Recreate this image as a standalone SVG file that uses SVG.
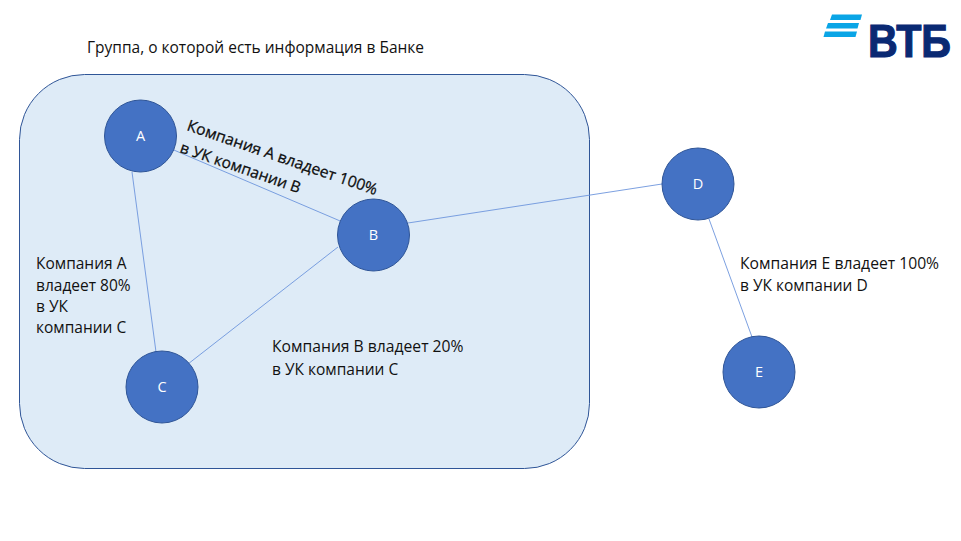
<svg xmlns="http://www.w3.org/2000/svg" width="961" height="541" viewBox="0 0 961 541">
<style>
text{font-family:"Open Sans","Noto Sans","Liberation Sans",sans-serif;font-size:15.700px;fill:#111}
.t{font-size:15.500px}
.r{stroke:#000;stroke-width:.25}
.n circle{fill:#4472c4;stroke:#2f5597;stroke-width:1}
.n text{fill:#fff;text-anchor:middle;font-size:14.500px}
#connectors line{stroke:#6d95dc;stroke-width:.9}
.logo{fill:#0a2973;stroke:#0a2973;stroke-width:1.200;font-family:"Liberation Sans",sans-serif;font-weight:700;font-size:46px}
</style>
<rect width="961" height="541" fill="#fff"/>
<g id="group"><rect x="19.500" y="74.500" width="570" height="394" rx="65" fill="#deebf7" stroke="#2f5597"/></g>
<g id="connectors">
<line x1="141" y1="136" x2="373" y2="235"/>
<line x1="132" y1="172" x2="156" y2="352"/>
<line x1="338" y1="247" x2="188" y2="364"/>
<line x1="408" y1="223" x2="662" y2="184"/>
<line x1="709" y1="219" x2="752" y2="337"/>
</g>
<g id="A" class="n"><circle cx="140.500" cy="136" r="36"/><text x="140.500" y="141">A</text></g>
<g id="B" class="n"><circle cx="373.500" cy="235" r="36"/><text x="373.500" y="240">B</text></g>
<g id="C" class="n"><circle cx="162" cy="387" r="36"/><text x="162" y="392">C</text></g>
<g id="D" class="n"><circle cx="698" cy="184" r="36"/><text x="698" y="189">D</text></g>
<g id="E" class="n"><circle cx="759" cy="372" r="36"/><text x="759" y="377">E</text></g>
<text class="t" x="87" y="53">Группа, о которой есть информация в Банке</text>
<text class="r" transform="translate(186 130) rotate(19)">Компания А владеет 100%</text>
<text class="r t" transform="translate(179 152) rotate(19)">в УК компании В</text>
<text class="t" x="36" y="269">Компания А</text>
<text class="t" x="36" y="291">владеет 80%</text>
<text class="t" x="36" y="312">в УК</text>
<text class="t" x="36" y="333">компании С</text>
<text x="272" y="352">Компания В владеет 20%</text>
<text class="t" x="272" y="375">в УК компании С</text>
<text x="740" y="269">Компания Е владеет 100%</text>
<text class="t" x="740" y="291">в УК компании D</text>
<g id="logo">
<polygon points="832,14.500 862,14.500 860.500,20 830,20" fill="#0aa5e6"/>
<polygon points="828,23 859,23 857.500,28.500 826,28.500" fill="#0aa5e6"/>
<polygon points="825,31.500 857,31.500 855.500,37 823.500,37" fill="#0aa5e6"/>
<text class="logo" x="868" y="57" textLength="83" lengthAdjust="spacingAndGlyphs">ВТБ</text>
</g>
</svg>
